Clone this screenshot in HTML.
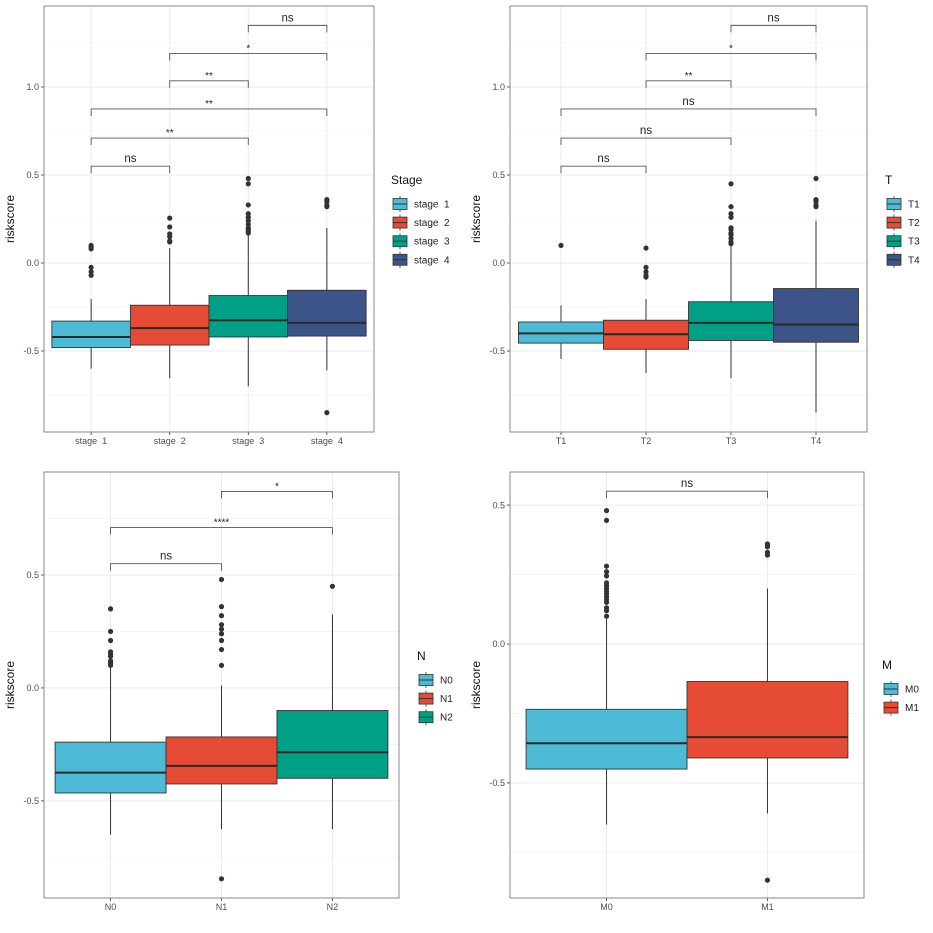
<!DOCTYPE html>
<html><head><meta charset="utf-8">
<style>
html,body{margin:0;padding:0;background:#fff;}
svg{display:block;font-family:"Liberation Sans",Arial,sans-serif;}
text{white-space:pre;}
</style></head>
<body>
<svg id="chart" width="933" height="933" viewBox="0 0 933 933" xmlns="http://www.w3.org/2000/svg"></svg>
<script>
// ---------- Data ----------
const stageCats = ["stage  1","stage  2","stage  3","stage  4"];
const stageQ1 = [-0.48,-0.466,-0.42,-0.415];
const stageMed = [-0.42,-0.37,-0.325,-0.34];
const stageQ3 = [-0.33,-0.24,-0.185,-0.155];
const stageLow = [-0.60,-0.655,-0.70,-0.61];
const stageHigh = [-0.205,0.085,0.16,0.20];
const stageOut = [[0.10,0.09,0.08,-0.025,-0.05,-0.07],[0.255,0.205,0.165,0.15,0.125,0.12],[0.48,0.45,0.33,0.28,0.26,0.24,0.22,0.20,0.19,0.18,0.17],[0.36,0.35,0.33,0.32,-0.85]];
const stageBrA = [0,0,0,1,1,2];
const stageBrB = [1,2,3,2,3,3];
const stageBrY = [0.55,0.71,0.875,1.035,1.19,1.35];
const stageBrLab = ["ns","**","**","**","*","ns"];

const tCats = ["T1","T2","T3","T4"];
const tQ1 = [-0.455,-0.49,-0.44,-0.45];
const tMed = [-0.40,-0.405,-0.34,-0.35];
const tQ3 = [-0.335,-0.325,-0.22,-0.145];
const tLow = [-0.545,-0.625,-0.655,-0.85];
const tHigh = [-0.24,-0.205,0.10,0.24];
const tOut = [[0.10],[0.085,-0.025,-0.05,-0.07,-0.08],[0.45,0.32,0.28,0.26,0.20,0.19,0.17,0.16,0.14,0.12,0.11],[0.48,0.36,0.35,0.33,0.32]];
const tBrA = [0,0,0,1,1,2];
const tBrB = [1,2,3,2,3,3];
const tBrY = [0.55,0.71,0.875,1.035,1.19,1.35];
const tBrLab = ["ns","ns","ns","**","*","ns"];

const nCats = ["N0","N1","N2"];
const nQ1 = [-0.465,-0.425,-0.40];
const nMed = [-0.375,-0.345,-0.285];
const nQ3 = [-0.24,-0.217,-0.10];
const nLow = [-0.65,-0.625,-0.625];
const nHigh = [0.09,0.01,0.325];
const nOut = [[0.35,0.25,0.21,0.16,0.15,0.14,0.12,0.11,0.10],[0.48,0.36,0.32,0.28,0.26,0.24,0.21,0.17,0.10,-0.845],[0.45]];
const nBrA = [0,0,1];
const nBrB = [1,2,2];
const nBrY = [0.55,0.71,0.87];
const nBrLab = ["ns","****","*"];

const mCats = ["M0","M1"];
const mQ1 = [-0.45,-0.41];
const mMed = [-0.357,-0.335];
const mQ3 = [-0.235,-0.135];
const mLow = [-0.65,-0.61];
const mHigh = [0.09,0.20];
const mOut = [[0.48,0.445,0.28,0.26,0.245,0.22,0.21,0.20,0.19,0.18,0.17,0.16,0.15,0.13,0.12,0.10],[0.36,0.355,0.35,0.33,0.32,-0.85]];
const mBrA = [0];
const mBrB = [1];
const mBrY = [0.55];
const mBrLab = ["ns"];

const yTicksTop = [-0.5,0.0,0.5,1.0];
const yTicksTopLab = ["-0.5","0.0","0.5","1.0"];
const yTicksN = [-0.5,0.0,0.5];
const yTicksNLab = ["-0.5","0.0","0.5"];
const yTicksM = [-0.5,0.0,0.5];
const yTicksMLab = ["-0.5","0.0","0.5"];

const fills = ["#4DBBD5","#E64B35","#00A087","#3C5488"];

const NS = "http://www.w3.org/2000/svg";
const svg = document.getElementById("chart");
function mk(tag, attrs, parent){
  const e = document.createElementNS(NS, tag);
  for (const k in attrs) e.setAttribute(k, attrs[k]);
  (parent||svg).appendChild(e);
  return e;
}

function panel(p){
  const g = mk("g", {});
  
  
  const y = v => p.py0 + (p.dMax - v) / (p.dMax - p.dMin) * (p.py1 - p.py0);
  const n = p.cats.length;
  const step = (p.px1 - p.px0) / (n + 0.2);
  const x = i => p.px0 + step * (0.6 + i);
  const bg = mk("rect", {x:p.px0, y:p.py0, width:p.px1-p.px0, height:p.py1-p.py0, fill:"#fff"}, g);
  
  
  const tk = p.ticks;
  const tstep = tk[1]-tk[0];
  for (let v = tk[0]-tstep/2; v <= p.dMax; v += tstep){
    if (v < p.dMin) continue;
    const gl = mk("line", {x1:p.px0, x2:p.px1, y1:y(v), y2:y(v), stroke:"#f2f2f2", "stroke-width":0.6}, g);
    
    
  }
  tk.forEach((v,i) => {
    const gl = mk("line", {x1:p.px0, x2:p.px1, y1:y(v), y2:y(v), stroke:"#ebebeb", "stroke-width":1}, g);
    
    
    const tl = mk("line", {x1:p.px0-3, x2:p.px0, y1:y(v), y2:y(v), stroke:"#333", "stroke-width":0.8}, g);
    
    
    const t = mk("text", {x:p.px0-5, y:y(v)+3.2, "text-anchor":"end", "font-size":9, fill:"#4d4d4d"}, g);
    t.textContent = p.tickLabs[i];
    
    
  });
  p.cats.forEach((c,i) => {
    const gl = mk("line", {x1:x(i), x2:x(i), y1:p.py0, y2:p.py1, stroke:"#ebebeb", "stroke-width":1}, g);
    
    
  });
  const bw = step;
  p.cats.forEach((c,i) => {
    const bx = mk("g", {}, g);
    
    
    const cx = x(i);
    mk("line", {x1:cx, x2:cx, y1:y(p.high[i]), y2:y(p.q3[i]), stroke:"#333", "stroke-width":1}, bx);
    mk("line", {x1:cx, x2:cx, y1:y(p.q1[i]), y2:y(p.low[i]), stroke:"#333", "stroke-width":1}, bx);
    mk("rect", {x:cx-bw/2, y:y(p.q3[i]), width:bw, height:y(p.q1[i])-y(p.q3[i]), fill:fills[i], stroke:"#333", "stroke-width":0.9}, bx);
    mk("line", {x1:cx-bw/2, x2:cx+bw/2, y1:y(p.med[i]), y2:y(p.med[i]), stroke:"#2a2a2a", "stroke-width":2}, bx);
    p.out[i].forEach(v => {
      const o = mk("circle", {cx:cx, cy:y(v), r:2.6, fill:"#333"}, bx);
      
      
    });
    const tl = mk("line", {x1:cx, x2:cx, y1:p.py1, y2:p.py1+3, stroke:"#333", "stroke-width":0.8}, g);
    
    
    const t = mk("text", {x:cx, y:p.py1+12, "text-anchor":"middle", "font-size":9, fill:"#4d4d4d"}, g);
    t.textContent = c;
    
    
  });
  p.brA.forEach((a,k) => {
    const b = p.brB[k];
    const yy = y(p.brY[k]);
    const br = mk("path", {d:`M${x(a)},${yy+7}V${yy}H${x(b)}V${yy+7}`, fill:"none", stroke:"#555", "stroke-width":0.9}, g);
    
    
    const lab = p.brLab[k];
    const isNs = lab === "ns";
    const t = mk("text", {x:(x(a)+x(b))/2, y: isNs ? yy-4 : yy-2, "text-anchor":"middle", "font-size": isNs ? 11.5 : 10, fill:"#222"}, g);
    t.textContent = lab;
    
    
  });
  const bd = mk("rect", {x:p.px0, y:p.py0, width:p.px1-p.px0, height:p.py1-p.py0, fill:"none", stroke:"#888", "stroke-width":1}, g);
  
  
  const yt = mk("text", {x:0, y:0, transform:`translate(${p.px0-30},${(p.py0+p.py1)/2}) rotate(-90)`, "text-anchor":"middle", "font-size":12, fill:"#111"}, g);
  yt.textContent = "riskscore";
  
  
  const lg = mk("g", {}, g);
  
  
  const lt = mk("text", {x:p.lx-1, y:p.ly, "font-size":12, fill:"#111"}, lg);
  lt.textContent = p.title;
  
  
  p.cats.forEach((c,i) => {
    const cy = p.ly + 20 + i*18.6;
    const e = mk("g", {}, lg);
    
    
    mk("line", {x1:p.lx+8, x2:p.lx+8, y1:cy-8, y2:cy+8, stroke:"#333", "stroke-width":0.8}, e);
    mk("rect", {x:p.lx+1, y:cy-5.5, width:14, height:11, fill:fills[i], stroke:"#333", "stroke-width":0.8}, e);
    mk("line", {x1:p.lx+1, x2:p.lx+15, y1:cy, y2:cy, stroke:"#333", "stroke-width":1}, e);
    const t = mk("text", {x:p.lx+22, y:cy+3.5, "font-size":10, fill:"#222"}, e);
    t.textContent = c;
    
    
  });
}

panel({name:"stage", cats:stageCats, q1:stageQ1, med:stageMed, q3:stageQ3, low:stageLow, high:stageHigh, out:stageOut,
  brA:stageBrA, brB:stageBrB, brY:stageBrY, brLab:stageBrLab, ticks:yTicksTop, tickLabs:yTicksTopLab,
  px0:44, px1:374, py0:6, py1:432, dMin:-0.96, dMax:1.46, title:"Stage", lx:392, ly:184});
panel({name:"t", cats:tCats, q1:tQ1, med:tMed, q3:tQ3, low:tLow, high:tHigh, out:tOut,
  brA:tBrA, brB:tBrB, brY:tBrY, brLab:tBrLab, ticks:yTicksTop, tickLabs:yTicksTopLab,
  px0:510, px1:867, py0:6, py1:432, dMin:-0.96, dMax:1.46, title:"T", lx:886, ly:184});
panel({name:"n", cats:nCats, q1:nQ1, med:nMed, q3:nQ3, low:nLow, high:nHigh, out:nOut,
  brA:nBrA, brB:nBrB, brY:nBrY, brLab:nBrLab, ticks:yTicksN, tickLabs:yTicksNLab,
  px0:44, px1:399, py0:472, py1:898, dMin:-0.93, dMax:0.956, title:"N", lx:418, ly:660});
panel({name:"m", cats:mCats, q1:mQ1, med:mMed, q3:mQ3, low:mLow, high:mHigh, out:mOut,
  brA:mBrA, brB:mBrB, brY:mBrY, brLab:mBrLab, ticks:yTicksM, tickLabs:yTicksMLab,
  px0:510, px1:864, py0:472, py1:898, dMin:-0.914, dMax:0.619, title:"M", lx:883, ly:669});
</script>
</body></html>
